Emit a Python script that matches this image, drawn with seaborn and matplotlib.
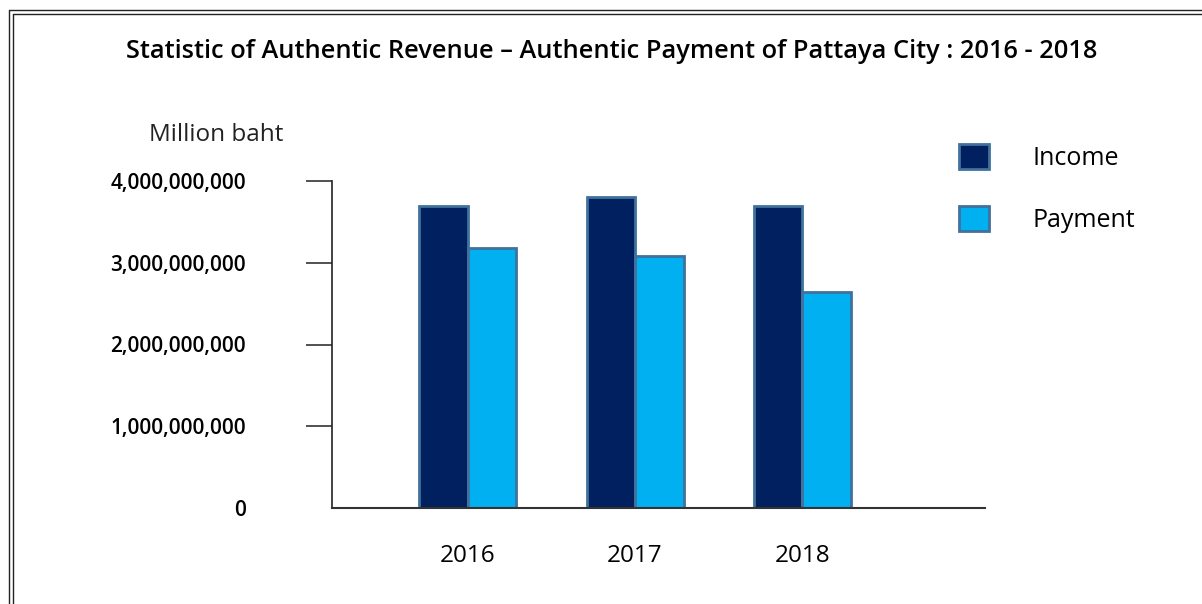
import matplotlib
matplotlib.use("Agg")
import matplotlib.pyplot as plt
from matplotlib.lines import Line2D
import seaborn as sns
import pandas as pd

years = ["2016", "2017", "2018"]
income = [3.69e9, 3.80e9, 3.69e9]
payment = [3.18e9, 3.08e9, 2.64e9]
series_names = ["Income", "Payment"]
ytick_values = [0, 1e9, 2e9, 3e9, 4e9]
ytick_labels = ["0", "1,000,000,000", "2,000,000,000", "3,000,000,000", "4,000,000,000"]

df = pd.DataFrame({
    "Year": years * 2,
    "Value": income + payment,
    "Series": [series_names[0]] * 3 + [series_names[1]] * 3,
})

sns.set_theme(style="white")
plt.rcParams["font.family"] = ["Open Sans", "DejaVu Sans"]
plt.rcParams["text.color"] = "black"
plt.rcParams["xtick.color"] = "black"
plt.rcParams["ytick.color"] = "black"

W, H = 1202, 604
fig = plt.figure(figsize=(W / 100, H / 100), dpi=100)
ax = fig.add_axes([332 / W, 1 - 508 / H, (985 - 332) / W, (508 - 181) / H])

sns.barplot(data=df, x="Year", y="Value", hue="Series",
            palette=["#002060", "#00B0F0"], saturation=1, width=0.58, gap=0.0,
            edgecolor="#41719C", linewidth=2, ax=ax, legend=True)

ax.set_xlim(-0.81, 3.09)
ax.set_ylim(0, 4e9)
ax.set_yticks(ytick_values)
ax.set_yticklabels(ytick_labels, fontsize=15, fontweight="semibold")
ax.set_xlabel("")
ax.set_ylabel("")
ax.tick_params(axis="y", direction="out", length=19, width=1.2, color="#333333",
               pad=43, left=True)
ax.tick_params(axis="x", length=0, pad=26, labelsize=17.5)
ax.yaxis.get_major_ticks()[0].tick1line.set_visible(False)
for s in ["top", "right"]:
    ax.spines[s].set_visible(False)
ax.spines["left"].set_color("#222222")
ax.spines["left"].set_linewidth(1.2)
ax.spines["bottom"].set_color("#333333")
ax.spines["bottom"].set_linewidth(1.5)

handles, labels = ax.get_legend_handles_labels()
ax.legend(handles, labels, loc="upper left", bbox_to_anchor=(959 / W, 1 - 144 / H),
          bbox_transform=fig.transFigure, frameon=False, fontsize=18,
          borderpad=0, borderaxespad=0,
          handlelength=1.2, handleheight=1.15, handletextpad=1.75, labelspacing=1.4)

fig.text(612 / W, 1 - 51 / H,
         "Statistic of Authentic Revenue \u2013 Authentic Payment of Pattaya City : 2016 - 2018",
         ha="center", va="center", fontsize=18.3, fontweight="semibold")
fig.text(216 / W, 1 - 135 / H, "Million baht", ha="center", va="center", fontsize=17.5,
         color="#222222")

# double frame
for off in (0, 3.5):
    fig.add_artist(Line2D([(9 + off) / W, 1.0], [1 - (10 + off) / H, 1 - (10 + off) / H],
                          transform=fig.transFigure, color="#222222", lw=1.0))
    fig.add_artist(Line2D([(9 + off) / W, (9 + off) / W], [0, 1 - (10 + off) / H],
                          transform=fig.transFigure, color="#222222", lw=1.0))

fig.savefig("out.png", dpi=100)
